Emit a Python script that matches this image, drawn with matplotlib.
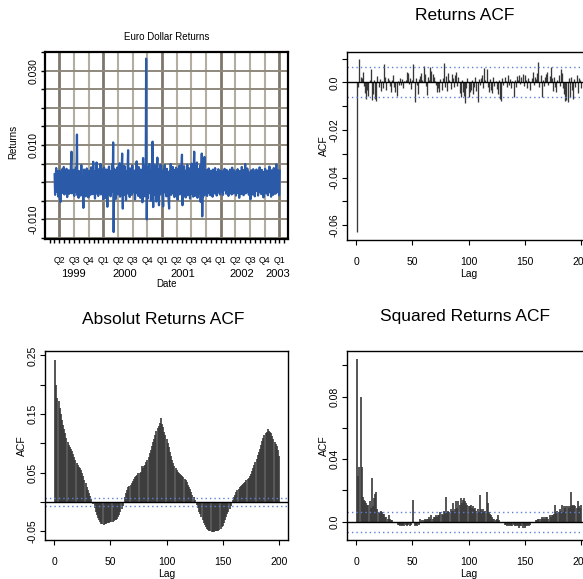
import numpy as np
import pandas as pd
import matplotlib
matplotlib.use("Agg")
import matplotlib.pyplot as plt
from matplotlib.ticker import MultipleLocator, FixedLocator

plt.rcParams['font.family'] = ['Liberation Sans', 'DejaVu Sans']

# daily Euro/Dollar returns, in units of 1e-3, one list per year of the sample
returns_1999 = [2.1, -3.4, 1.2, 3.8, -2.6, -1.1, 2.9, -3.9, 0.8, 3.1, -2.2, -5.3,
                2.4, -1.7, 3.5, -2.9, 1.3, 4.1, -3.3, -0.9, 2.7, -2.5, 3.6, -4.0, 1.9, -1.4, 3.2, -3.1, 2.2, -2.8, 4.4,
                8.2, -3.0, 1.6, -2.4, 3.3, -3.7, 2.5, -1.2, 3.9, -2.7,
                12.8, -3.5, 2.0, -4.2, 3.0, -1.8, 2.6, -3.6, 4.6, -2.3, 1.1, -3.0,
                -6.9, 3.4, -2.1, 2.8, -3.8, 1.5, 3.7, -2.9, 2.2, -4.1, 3.1, -1.6, 2.5, -3.4, 4.0, -2.2, 1.7, -3.2,
                5.5, -2.6, 3.0, -4.4, 2.3, -1.9, 5.3, -3.1, 2.6, -3.7, 1.8, 3.6, -2.8, 4.9, -3.3, 2.1, -2.4, 3.5, -4.6]
returns_2000 = [-2.8, 3.9, -1.6, 2.7, -4.3, 1.9, 3.4, -6.6,
                2.5, -3.1, 4.2, -2.0, 1.4, -3.8, 3.0, -2.6, 4.8, -1.7, 10.7, -13.4,
                3.6, -2.4, 2.1, -4.5, 3.2, -1.5, 4.0, -3.3, 2.8, -2.2, 5.1, -3.9, 1.8, -2.9, 3.5, 7.7, -7.1,
                2.9, -3.5, 4.4, -2.1, 3.1, -4.8, 2.3, -1.9, 3.8, 8.6,
                -3.2, 2.4, -4.0, 3.7, -2.5, 1.6, -3.4, 4.5, -2.8, 3.0, -1.8, 2.6, -4.6, 3.3, -2.2, 5.6, -3.0,
                2.0, -3.7, 4.1, -2.6, 1.5, -4.2, 3.4, -2.0, 2.9, -5.4, 6.5,
                -3.1, 2.2, -3.8, 4.3, -2.7, 33.2, -10.0,
                3.9, -4.4, 2.6, -3.0, 4.9, -2.3, 3.2, -5.0, 2.8, -3.6, 10.9, -6.7,
                3.1, -2.9, 4.6, -3.4, 2.4, -5.2, 3.8, 6.6, -2.5, 3.5, -6.2, 2.7, -3.3, 4.7, -2.1, 3.0]
returns_2001 = [2.6, -3.5, -6.5, 3.4, -2.7, 4.6, -1.9, 2.9, -3.8, 3.6, -2.2, 1.7, -4.3, -7.1, 3.0, -2.5, 4.9,
                -3.4, 2.2, -2.9, 4.1, -1.8, 3.3, -4.0, 2.5, -3.1, 3.9, -2.4, 1.9, -4.7, 3.5, -2.6, 4.4, -3.3,
                2.1, -2.0, 3.6, 7.4, -6.2,
                2.8, -3.6, 4.3, -2.3, 3.1, -4.1, 2.0, -2.8, 4.7, -3.5, 2.4, -1.7, 3.7, -4.4, 2.9, -2.6, 5.0,
                -3.2, 1.8, -3.9, 3.2, 8.2, -3.7, 2.6, -2.9, 4.0, 5.3,
                -4.2, 2.7, -3.1, 3.6, -2.4, 4.5, -5.3, 2.2, 7.7, -9.2, 3.0, -3.8, 2.5, 6.8,
                -3.4, 2.8, -2.5, 3.3, -3.7, 2.0, -2.9, 3.7, -2.1, 2.6, -3.5, 3.1, -1.8, 2.4, -3.9, 3.4,
                -2.6, 1.9, -3.0, 3.8, -2.3, 2.7, -3.6, 2.2, -2.8, 3.5, -1.9, 3.0, -3.3, 2.5]
returns_2002 = [-2.6, 3.1, -1.9, 2.4, -3.4, 2.8, -2.2, 3.6, -1.5, 2.0, -3.1, 3.3, -2.5, 1.8, -3.7,
                2.9, -2.0, 3.4, -2.8, 2.2, -3.3, 3.9, -1.7, 2.5, -3.0, 3.2, -2.4, 1.6, -3.6, 2.7,
                -2.1, 3.5, -2.9, 2.3, -4.2, 3.0, -1.8, 2.6, -3.2, 4.1, -2.5, 2.1, -3.5, 3.3, -2.2, 4.9,
                -3.0, 2.4, -2.7, 3.7, -1.9, 2.8, -3.4, 2.5, -2.3, -4.6,
                3.2, -2.0, 2.7, -3.3, 3.5, -2.6, 1.9, -3.8, 2.9, -2.4, 3.4, -2.1, 2.3, -3.6, 3.0, -2.7,
                4.0, -1.8, 2.6, -3.2, 3.3, -2.5, 2.0, -4.1, 2.8, -2.2, 3.6, -3.0, 2.4, -1.7, 3.1, -3.5,
                2.2, -2.8, 4.2, -2.3, 2.7, -3.9, 3.2, -2.0, 2.5, -3.4, 3.8, -2.6, 2.1, -3.1, 3.0, 4.8,
                -2.7, 3.3, -2.2, 2.6, -3.5, 3.1]
segment_dates = [("1999-03-04", "1999-12-31"), ("2000-01-03", "2000-12-29"),
                 ("2001-01-02", "2001-12-31"), ("2002-01-02", "2003-01-03")]

# sample ACF of the high-frequency series, lags 1..200
returns_acf = [-0.0630, -0.0020, 0.0097, 0.0025, 0.0018, 0.0042, -0.0015, -0.0045, -0.0068, -0.0030,
               -0.0055, 0.0010, 0.0058, -0.0072, -0.0050, 0.0012, -0.0068, -0.0078, 0.0028, -0.0020,
               0.0015, -0.0035, 0.0008, -0.0025, 0.0079, 0.0022, -0.0030, 0.0018, 0.0012, -0.0015,
               -0.0040, 0.0010, 0.0030, -0.0018, -0.0042, -0.0058, 0.0008, -0.0012, 0.0020, -0.0010,
               0.0015, -0.0022, 0.0005, 0.0012, 0.0042, 0.0038, -0.0008, 0.0018, -0.0028, 0.0010,
               0.0078, -0.0082, 0.0020, -0.0012, -0.0050, 0.0015, 0.0028, 0.0040, 0.0012, 0.0068,
               0.0035, -0.0015, -0.0052, 0.0025, 0.0010, 0.0065, 0.0048, 0.0035, 0.0022, 0.0008,
               -0.0010, -0.0042, -0.0025, -0.0038, 0.0015, -0.0030, 0.0020, 0.0083, -0.0018, 0.0028,
               -0.0035, 0.0040, 0.0012, -0.0028, 0.0035, 0.0018, -0.0020, 0.0030, 0.0045, -0.0015,
               0.0022, -0.0045, -0.0060, 0.0010, -0.0038, -0.0055, -0.0085, -0.0025, 0.0018, -0.0062,
               -0.0042, -0.0030, 0.0012, -0.0048, -0.0020, 0.0025, -0.0035, -0.0082, 0.0015, -0.0010,
               0.0020, 0.0030, -0.0022, 0.0062, 0.0010, 0.0058, -0.0018, -0.0040, 0.0015, -0.0032,
               -0.0045, 0.0022, -0.0015, 0.0008, -0.0028, -0.0050, 0.0012, -0.0070, -0.0076, 0.0018,
               -0.0012, 0.0025, 0.0008, -0.0020, 0.0030, -0.0010, 0.0015, -0.0025, 0.0005, -0.0060,
               0.0012, -0.0018, 0.0028, 0.0010, 0.0032, -0.0008, 0.0022, 0.0035, -0.0015, 0.0030,
               0.0012, -0.0022, 0.0018, 0.0008, -0.0030, 0.0020, 0.0042, -0.0012, 0.0025, 0.0015,
               0.0040, 0.0087, -0.0020, 0.0030, -0.0062, 0.0012, -0.0015, 0.0022, 0.0035, 0.0042,
               -0.0010, 0.0028, 0.0066, 0.0018, -0.0035, 0.0022, -0.0018, -0.0042, 0.0012, 0.0030,
               -0.0015, 0.0055, 0.0038, -0.0025, -0.0048, -0.0080, -0.0072, -0.0082, 0.0020, -0.0060,
               0.0025, -0.0030, -0.0070, 0.0015, -0.0020, 0.0032, -0.0045, 0.0018, 0.0010, -0.0025]

abs_acf = [0.243, 0.199, 0.178, 0.172, 0.160, 0.150, 0.140, 0.132, 0.124, 0.117,
           0.110, 0.103, 0.097, 0.094, 0.091, 0.087, 0.082, 0.077, 0.071, 0.067,
           0.063, 0.060, 0.058, 0.055, 0.050, 0.044, 0.038, 0.032, 0.026, 0.021,
           0.016, 0.011, 0.006, 0.001, -0.004, -0.010, -0.016, -0.022, -0.027, -0.031,
           -0.034, -0.037, -0.038, -0.039, -0.038, -0.037, -0.036, -0.035, -0.035, -0.034,
           -0.034, -0.033, -0.032, -0.031, -0.030, -0.028, -0.026, -0.022, -0.017, -0.012,
           -0.006, 0.000, 0.008, 0.015, 0.021, 0.025, 0.028, 0.030, 0.033, 0.036,
           0.039, 0.042, 0.045, 0.047, 0.049, 0.050, 0.052, 0.062, 0.058, 0.061,
           0.064, 0.068, 0.072, 0.077, 0.083, 0.089, 0.095, 0.102, 0.108, 0.115,
           0.121, 0.126, 0.130, 0.134, 0.143, 0.133, 0.128, 0.120, 0.114, 0.108,
           0.101, 0.094, 0.086, 0.079, 0.072, 0.066, 0.061, 0.058, 0.055, 0.052,
           0.050, 0.048, 0.046, 0.044, 0.042, 0.040, 0.037, 0.034, 0.030, 0.026,
           0.022, 0.018, 0.013, 0.009, 0.004, 0.000, -0.005, -0.010, -0.016, -0.021,
           -0.026, -0.031, -0.035, -0.039, -0.042, -0.045, -0.047, -0.049, -0.050, -0.051,
           -0.051, -0.051, -0.050, -0.050, -0.050, -0.049, -0.048, -0.046, -0.043, -0.040,
           -0.036, -0.031, -0.026, -0.021, -0.016, -0.011, -0.006, -0.002, 0.003, 0.009,
           0.013, 0.017, 0.020, 0.023, 0.026, 0.028, 0.030, 0.031, 0.033, 0.035,
           0.037, 0.039, 0.041, 0.044, 0.048, 0.053, 0.058, 0.063, 0.068, 0.074,
           0.080, 0.086, 0.091, 0.097, 0.104, 0.110, 0.115, 0.118, 0.120, 0.124,
           0.122, 0.120, 0.117, 0.112, 0.107, 0.102, 0.099, 0.095, 0.088, 0.078]

sq_acf = [0.104, 0.029, 0.035, 0.080, 0.035, 0.016, 0.014, 0.013, 0.012, 0.011,
          0.011, 0.013, 0.009, 0.028, 0.010, 0.015, 0.018, 0.019, 0.008, 0.006,
          0.006, 0.007, 0.006, 0.005, 0.005, 0.003, 0.003, 0.002, 0.004, 0.002,
          0.001, 0.001, 0.000, 0.000, -0.001, -0.001, -0.002, -0.002, -0.003, -0.002,
          -0.003, -0.002, -0.003, -0.002, -0.003, -0.002, -0.001, -0.003, -0.002, -0.001,
          0.014, -0.003, -0.002, -0.003, -0.001, -0.002, 0.002, 0.000, 0.001, 0.001,
          0.002, 0.001, 0.002, 0.002, 0.003, 0.002, 0.004, 0.002, 0.003, 0.003,
          0.004, 0.003, 0.004, 0.004, 0.006, 0.005, 0.004, 0.007, 0.006, 0.016,
          0.006, 0.007, 0.006, 0.008, 0.007, 0.012, 0.007, 0.008, 0.013, 0.009,
          0.013, 0.011, 0.015, 0.012, 0.014, 0.015, 0.013, 0.012, 0.011, 0.010,
          0.010, 0.011, 0.009, 0.010, 0.008, 0.009, 0.007, 0.008, 0.006, 0.017,
          0.008, 0.007, 0.008, 0.006, 0.007, 0.019, 0.012, 0.006, 0.005, 0.004,
          0.003, 0.002, 0.002, 0.001, 0.002, 0.004, 0.001, 0.000, 0.000, -0.001,
          -0.001, -0.002, -0.002, -0.003, -0.002, -0.003, -0.002, -0.003, -0.003, -0.002,
          -0.003, -0.003, -0.002, -0.003, -0.004, -0.003, -0.003, -0.004, -0.003, -0.004,
          -0.003, -0.003, -0.002, -0.003, -0.002, -0.001, -0.001, 0.000, 0.000, 0.001,
          0.001, 0.002, 0.002, 0.002, 0.003, 0.002, 0.003, 0.002, 0.003, 0.003,
          0.002, 0.004, 0.003, 0.004, 0.004, 0.005, 0.011, 0.006, 0.007, 0.006,
          0.008, 0.007, 0.011, 0.006, 0.010, 0.009, 0.010, 0.010, 0.009, 0.010,
          0.019, 0.011, 0.010, 0.011, 0.010, 0.009, 0.013, 0.010, 0.009, 0.011]

conf_band = 0.0063

quarter_labels = ["Q2", "Q3", "Q4", "Q1", "Q2", "Q3", "Q4", "Q1",
                  "Q2", "Q3", "Q4", "Q1", "Q2", "Q3", "Q4", "Q1"]
year_labels = ["1999", "2000", "2001", "2002", "2003"]
year_label_pos = [1999.49, 2000.37, 2001.36, 2002.36, 2002.98]

W, H = 583, 579
fig = plt.figure(figsize=(W / 100, H / 100), dpi=100)


def px_rect(left, top, right, bottom):
    return [left / W, 1 - bottom / H, (right - left) / W, (bottom - top) / H]


def to_year(d):
    d = pd.DatetimeIndex(d)
    return d.year + (d.dayofyear - 1) / 365.0


# ---- Euro Dollar returns (time series) ----
series = [returns_1999, returns_2000, returns_2001, returns_2002]
xs, ys = [], []
for vals, (a, b) in zip(series, segment_dates):
    xs.append(to_year(pd.date_range(a, b, periods=len(vals))))
    ys.append(np.array(vals) * 1e-3)
x_ret = np.concatenate(xs)
y_ret = np.concatenate(ys)

ax = fig.add_axes(px_rect(45, 52, 288, 239))
ax.set_xlim(1999.006, 2003.146)
ax.set_ylim(-0.01527, 0.035)
quarters = np.arange(1999.25, 2003.01, 0.25)
for q in quarters:
    if abs(q - round(q)) < 1e-6 or abs(q - 1999.25) < 1e-6:
        ax.axvline(q, color='#7d776b', lw=2.0, zorder=1)
    else:
        ax.axvline(q, color='#b3ada2', lw=1.5, zorder=1)
for h in np.arange(-0.015, 0.0351, 0.005):
    ax.axhline(h, color='#8f897d', lw=1.4, zorder=1)
ax.plot(x_ret, y_ret, color='#2b5ba8', lw=1.6, zorder=3)
ax.xaxis.set_major_locator(FixedLocator(quarters))
ax.set_xticklabels(quarter_labels, fontsize=6.3)
ax.xaxis.set_minor_locator(MultipleLocator(1 / 12))
ax.yaxis.set_major_locator(MultipleLocator(0.005))
ax.set_yticklabels([])
for v in [-0.010, 0.010, 0.030]:
    ax.text(-0.028, v, f"{v:.3f}", transform=ax.get_yaxis_transform(), rotation=90,
            ha='right', va='center', fontsize=7.5)
ax.tick_params(axis='both', which='both', direction='out', length=3, width=1.0)
ax.tick_params(axis='x', which='major', pad=9)
for s in ax.spines.values():
    s.set_linewidth(1.6)
for lab, xp in zip(year_labels, year_label_pos):
    ax.text(xp, -0.185, lab, transform=ax.get_xaxis_transform(), ha='center', va='center', fontsize=8)
ax.text(0.5, -0.24, "Date", transform=ax.transAxes, ha='center', va='center', fontsize=7)
ax.text(-0.13, 0.52, "Returns", transform=ax.transAxes, rotation=90, ha='center', va='center', fontsize=7)
ax.set_title("Euro Dollar Returns", fontsize=7, pad=9)


# ---- ACF panels ----
def acf_panel(rect, values, title, ylim, major, label_ticks, title_y, bar_lw):
    a = fig.add_axes(px_rect(*rect))
    lags = np.arange(1, len(values) + 1)
    a.vlines(lags, 0, values, colors='#383838', lw=bar_lw)
    a.axhline(0, color='black', lw=1.0)
    for c in (conf_band, -conf_band):
        a.axhline(c, color='#5d80d6', lw=1.0, ls=(0, (1, 2.2)))
    a.set_xlim(-8, 208)
    a.set_ylim(*ylim)
    a.xaxis.set_major_locator(FixedLocator([0, 50, 100, 150, 200]))
    a.yaxis.set_major_locator(MultipleLocator(major))
    a.set_yticklabels([])
    for v in label_ticks:
        txt = "0.0" if abs(v) < 1e-12 else f"{v:.2f}"
        a.text(-0.03, v, txt, transform=a.get_yaxis_transform(), rotation=90,
               ha='right', va='center', fontsize=7.5)
    a.tick_params(axis='both', direction='out', length=3.5, width=0.8, labelsize=7.5)
    a.tick_params(axis='x', pad=9)
    for s in a.spines.values():
        s.set_linewidth(1.0)
    a.set_xlabel("Lag", fontsize=7.5, labelpad=1)
    a.text(-0.093, 0.5, "ACF", transform=a.transAxes, rotation=90, ha='center', va='center', fontsize=7.5)
    fig.text((rect[0] + 118) / W, 1 - title_y / H, title, ha='center', va='center', fontsize=12.5)
    return a


acf_panel((347, 52, 590, 240), returns_acf, "Returns ACF", (-0.0662, 0.0128), 0.01,
          [0.0, -0.02, -0.04, -0.06], 15, 0.95)
acf_panel((45, 351, 288, 540), abs_acf, "Absolut Returns ACF", (-0.0645, 0.2575), 0.05,
          [0.25, 0.15, 0.05, -0.05], 320, 1.2)
acf_panel((347, 351, 590, 540), sq_acf, "Squared Returns ACF", (-0.0117, 0.1092), 0.02,
          [0.0, 0.04, 0.08], 317, 1.2)

fig.savefig("out.png", dpi=100)
